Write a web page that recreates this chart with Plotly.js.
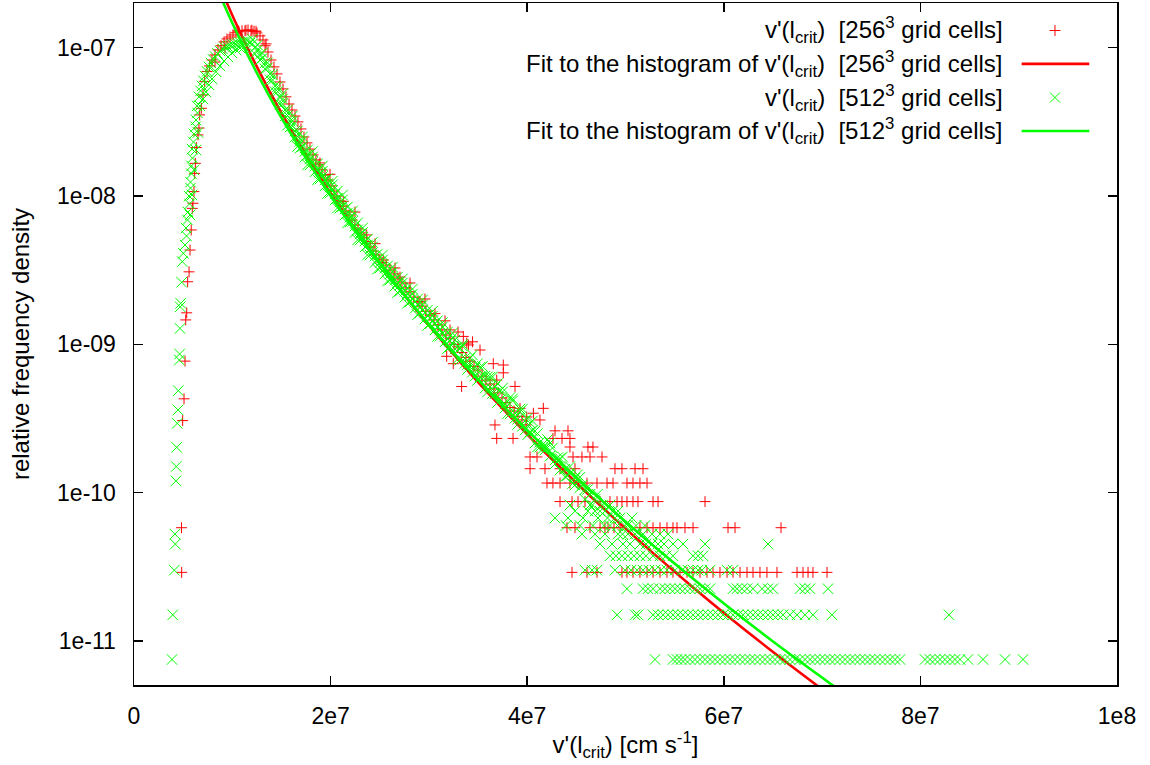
<!DOCTYPE html>
<html>
<head>
<meta charset="utf-8">
<script src="https://cdn.plot.ly/plotly-3.0.1.min.js"></script>
<style>html,body{margin:0;padding:0;background:#fff;}#chart{width:1150px;height:765px;}</style>
</head>
<body>
<div id="chart"></div>
<script>
// ---------- tick labels ----------
const xTickVals = [0, 2e7, 4e7, 6e7, 8e7, 1e8];
const xTickText = ['0', '2e7', '4e7', '6e7', '8e7', '1e8'];
const yTickVals = [1e-11, 1e-10, 1e-9, 1e-8, 1e-7];
const yTickText = ['1e-11', '1e-10', '1e-09', '1e-08', '1e-07'];

const legendLabels = [
  "v'(l<sub>crit</sub>)\u00a0 [256<sup>3</sup> grid cells]",
  "Fit to the histogram of v'(l<sub>crit</sub>)\u00a0 [256<sup>3</sup> grid cells]",
  "v'(l<sub>crit</sub>)\u00a0 [512<sup>3</sup> grid cells]",
  "Fit to the histogram of v'(l<sub>crit</sub>)\u00a0 [512<sup>3</sup> grid cells]"
];

// ---------- 256^3 histogram points [v', density] ----------
const red256Rise = [[4.85e6,2.9e-11],[4.83e6,5.8e-11],[4.95e6,3.06e-10],[5.09e6,4.29e-10],[5.19e6,7.7e-10],[5.26e6,1.46e-9],[5.36e6,1.63e-9],[5.46e6,2.64e-9],[5.60e6,3.08e-9],[5.70e6,4.32e-9],[5.82e6,5.9e-9],[5.93e6,8.25e-9],[6.00e6,8.93e-9],[6.10e6,1.07e-8],[6.17e6,1.42e-8],[6.24e6,1.66e-8],[6.34e6,2.12e-8],[6.51e6,2.58e-8],[6.61e6,2.87e-8],[6.68e6,3.52e-8],[6.85e6,3.9e-8],[7.02e6,4.8e-8],[7.19e6,5.9e-8]];
const red256Peak = [[7.43e6,6.9e-8],[7.68e6,7.53e-8],[7.94e6,8.26e-8],[8.24e6,8.93e-8],[8.55e6,9.65e-8],[8.85e6,1.03e-7],[9.16e6,1.093e-7],[9.46e6,1.145e-7],[9.77e6,1.18e-7],[10.07e6,1.218e-7],[10.38e6,1.26e-7],[10.68e6,1.28e-7],[10.99e6,1.30e-7],[11.29e6,1.30e-7],[11.60e6,1.316e-7],[11.90e6,1.30e-7],[12.21e6,1.29e-7],[12.51e6,1.256e-7],[12.82e6,1.20e-7],[13.12e6,1.127e-7],[13.43e6,1.06e-7],[10.58e6,1.30e-7],[11.39e6,1.31e-7],[12.00e6,1.31e-7],[12.41e6,1.29e-7],[8.24e6,8.0e-8],[9.26e6,9.95e-8]];
const red256Band = [[13.33e6,1.03e-7],[13.63e6,9.35e-8],[13.94e6,8.26e-8],[14.24e6,7.42e-8],[14.55e6,6.65e-8],[14.85e6,5.87e-8],[15.16e6,5.27e-8],[15.46e6,4.66e-8],[15.77e6,4.17e-8],[16.07e6,3.80e-8],[16.38e6,3.46e-8],[16.68e6,3.16e-8],[16.99e6,2.83e-8],[17.29e6,2.50e-8],[17.60e6,2.28e-8],[17.90e6,2.07e-8],[18.21e6,1.89e-8],[18.51e6,1.75e-8],[18.82e6,1.62e-8],[19.13e6,1.50e-8],[19.43e6,1.385e-8],[19.74e6,1.28e-8],[20.04e6,1.17e-8],[20.35e6,1.08e-8],[20.65e6,1.0e-8],[20.96e6,9.26e-9],[21.26e6,8.57e-9],[21.57e6,7.92e-9],[21.87e6,7.44e-9],[22.18e6,6.89e-9],[22.48e6,6.37e-9],[22.79e6,5.99e-9],[23.09e6,5.63e-9],[23.40e6,5.21e-9],[23.70e6,4.93e-9],[24.01e6,4.53e-9],[24.31e6,4.25e-9],[24.62e6,4.00e-9],[24.92e6,3.76e-9],[25.23e6,3.56e-9],[25.64e6,3.42e-9],[26.04e6,3.17e-9],[26.45e6,2.98e-9],[26.86e6,2.76e-9],[27.26e6,2.59e-9],[27.67e6,2.40e-9],[28.08e6,2.26e-9],[28.48e6,2.08e-9],[28.89e6,1.93e-9],[29.30e6,1.81e-9],[29.70e6,1.67e-9],[30.11e6,1.575e-9],[30.52e6,1.46e-9],[30.93e6,1.35e-9],[31.33e6,1.25e-9],[31.74e6,1.155e-9],[32.15e6,1.10e-9],[32.55e6,1.0e-9],[32.96e6,9.6e-10],[33.37e6,8.8e-10],[33.77e6,8.15e-10],[34.18e6,7.7e-10],[34.59e6,7.1e-10],[34.99e6,6.71e-10],[35.40e6,6.1e-10],[35.81e6,5.74e-10],[36.22e6,5.4e-10],[36.62e6,5.0e-10],[37.03e6,4.7e-10],[37.44e6,4.35e-10],[37.84e6,4.05e-10],[38.25e6,3.75e-10],[38.66e6,3.55e-10],[39.06e6,3.27e-10],[39.47e6,3.09e-10],[39.88e6,2.86e-10]];
const red256Outliers = [[18.92e6,1.67e-8],[21.29e6,9.2e-9],[23.67e6,5.46e-9],[25.36e6,3.7e-9],[27.06e6,2.84e-9],[29.09e6,1.94e-9],[30.62e6,1.61e-9],[32.15e6,1.25e-9],[33.50e6,1.13e-9],[33.85e6,1.02e-9],[35.20e6,9.15e-10],[36.55e6,7.4e-10],[34.02e6,9.9e-10],[33.33e6,5.19e-10],[32.48e6,7.4e-10],[31.81e6,8.3e-10],[36.90e6,5.74e-10],[37.57e6,6.42e-10],[37.57e6,7.25e-10],[38.76e6,5.2e-10],[39.27e6,3.7e-10],[39.95e6,3.24e-10],[40.63e6,3.43e-10],[41.64e6,3.70e-10],[41.30e6,3.09e-10],[36.72e6,2.86e-10],[36.90e6,2.32e-10],[38.56e6,2.32e-10],
[19.94e6,1.40e-8],[22.48e6,7.79e-9],[24.52e6,4.77e-9],[26.55e6,3.27e-9],[28.08e6,2.59e-9],[29.60e6,2.02e-9],[31.64e6,1.44e-9],[32.96e6,1.21e-9],[34.44e6,1.04e-9]];
const red256Tail = [[42.83e6,2.61e-10],[44.15e6,2.61e-10],[42.62e6,2.32e-10],[43.54e6,2.32e-10],[44.35e6,2.32e-10],[44.35e6,2.03e-10],[46.18e6,2.03e-10],[46.69e6,2.03e-10],
[40.29e6,1.74e-10],[41.00e6,1.74e-10],[44.66e6,1.74e-10],[45.57e6,1.74e-10],[46.39e6,1.74e-10],[47.61e6,1.74e-10],
[40.29e6,1.45e-10],[41.81e6,1.45e-10],[43.34e6,1.45e-10],[44.86e6,1.45e-10],[48.93e6,1.45e-10],[49.64e6,1.45e-10],[50.97e6,1.45e-10],[51.78e6,1.45e-10],
[42.01e6,1.16e-10],[42.62e6,1.16e-10],[43.34e6,1.16e-10],[44.35e6,1.16e-10],[45.17e6,1.16e-10],[46.08e6,1.16e-10],[47.10e6,1.16e-10],[48.12e6,1.16e-10],[48.73e6,1.16e-10],[50.15e6,1.16e-10],[50.76e6,1.16e-10],[51.47e6,1.16e-10],[52.19e6,1.16e-10],
[43.34e6,8.7e-11],[44.56e6,8.7e-11],[45.17e6,8.7e-11],[45.88e6,8.7e-11],[47.41e6,8.7e-11],[48.42e6,8.7e-11],[49.14e6,8.7e-11],[49.64e6,8.7e-11],[50.15e6,8.7e-11],[50.76e6,8.7e-11],[51.27e6,8.7e-11],[52.80e6,8.7e-11],[53.31e6,8.7e-11],[58.09e6,8.7e-11],
[44.05e6,5.8e-11],[44.86e6,5.8e-11],[46.39e6,5.8e-11],[47.41e6,5.8e-11],[47.91e6,5.8e-11],[48.22e6,5.8e-11],[48.83e6,5.8e-11],[49.44e6,5.8e-11],[51.47e6,5.8e-11],[52.19e6,5.8e-11],[52.80e6,5.8e-11],[53.51e6,5.8e-11],[54.22e6,5.8e-11],[54.83e6,5.8e-11],[55.24e6,5.8e-11],[56.05e6,5.8e-11],[56.87e6,5.8e-11],[60.43e6,5.8e-11],[61.14e6,5.8e-11],[65.82e6,5.8e-11],
[44.56e6,2.9e-11],[46.08e6,2.9e-11],[47.10e6,2.9e-11],[49.64e6,2.9e-11],[50.15e6,2.9e-11],[50.76e6,2.9e-11],[51.47e6,2.9e-11],[52.19e6,2.9e-11],[52.80e6,2.9e-11],[53.51e6,2.9e-11],[54.22e6,2.9e-11],[54.83e6,2.9e-11],[55.54e6,2.9e-11],[56.26e6,2.9e-11],[56.87e6,2.9e-11],[57.58e6,2.9e-11],[58.29e6,2.9e-11],[58.90e6,2.9e-11],[59.61e6,2.9e-11],[60.33e6,2.9e-11],[60.94e6,2.9e-11],[61.65e6,2.9e-11],[62.36e6,2.9e-11],[62.97e6,2.9e-11],[63.68e6,2.9e-11],[64.39e6,2.9e-11],[65.41e6,2.9e-11],[67.45e6,2.9e-11],[68.06e6,2.9e-11],[68.57e6,2.9e-11],[69.07e6,2.9e-11],[70.50e6,2.9e-11]];

// ---------- 512^3 histogram points [v', density] ----------
const green512Rise = [[3.87e6,7.5e-12],[3.94e6,1.5e-11],[4.10e6,3.0e-11],[4.20e6,4.5e-11],[4.17e6,5.25e-11],[4.27e6,1.2e-10],[4.30e6,1.5e-10],[4.34e6,2.02e-10],[4.40e6,2.93e-10],[4.48e6,3.61e-10],[4.51e6,4.87e-10],[4.61e6,7.83e-10],[4.64e6,8.6e-10],[4.68e6,1.28e-9],[4.70e6,1.79e-9],[4.75e6,1.89e-9],[4.85e6,2.62e-9],[4.91e6,3.61e-9],[5.02e6,4.11e-9]];
const green512Peak = [[5.19e6,4.67e-9],[5.34e6,5.38e-9],[5.29e6,6.08e-9],[5.44e6,6.89e-9],[5.49e6,7.79e-9],[5.65e6,8.84e-9],[5.60e6,9.99e-9],[5.75e6,1.13e-8],[5.75e6,1.24e-8],[5.85e6,1.41e-8],[5.85e6,1.595e-8],[5.95e6,1.80e-8],[5.90e6,2.07e-8],[6.05e6,2.31e-8],[6.10e6,2.62e-8],[6.26e6,2.93e-8],[6.31e6,3.25e-8],[6.46e6,3.63e-8],[6.41e6,4.05e-8],
[6.61e6,4.66e-8],[6.77e6,5.11e-8],[6.92e6,5.52e-8],[7.07e6,5.97e-8],[7.22e6,6.45e-8],[7.43e6,6.91e-8],[7.63e6,7.42e-8],[7.83e6,7.88e-8],[8.04e6,8.33e-8],[8.24e6,8.72e-8],[8.49e6,9.14e-8],[8.75e6,9.50e-8],[9.00e6,9.80e-8],[9.26e6,1.003e-7],[9.51e6,1.019e-7],[9.77e6,1.035e-7],[10.02e6,1.051e-7],[10.27e6,1.06e-7],[10.53e6,1.076e-7],[10.78e6,1.084e-7],[11.04e6,1.093e-7],[11.29e6,1.101e-7],
[6.71e6,4.05e-8],[7.02e6,4.51e-8],[7.32e6,5.03e-8],[7.63e6,5.61e-8],[7.94e6,6.15e-8],[8.34e6,6.88e-8],[8.75e6,7.53e-8],[9.16e6,8.13e-8],[9.56e6,8.65e-8],[9.97e6,9.21e-8],[10.38e6,9.65e-8],[10.78e6,9.95e-8],[11.19e6,1.01e-7],
[5.70e6,7.44e-9],[5.90e6,1.015e-8],[6.10e6,1.50e-8],[6.31e6,2.04e-8],[6.51e6,2.68e-8]];
const green512Band = [[11.55e6,1.11e-7],[11.80e6,1.075e-7],[12.05e6,1.06e-7],[12.31e6,1.003e-7],[12.56e6,9.65e-8],[12.82e6,9.0e-8],[13.07e6,8.5e-8],[13.33e6,7.9e-8],[13.58e6,7.3e-8],[13.84e6,6.65e-8],[14.09e6,6.06e-8],[14.34e6,5.5e-8],[14.60e6,5.05e-8],[14.85e6,4.6e-8],[15.11e6,4.17e-8],[15.36e6,3.80e-8],[15.62e6,3.49e-8],[15.87e6,3.20e-8],[16.12e6,2.96e-8],[16.38e6,2.74e-8],[16.63e6,2.52e-8],[16.89e6,2.33e-8],[17.14e6,2.15e-8],[17.40e6,2.00e-8],[17.65e6,1.89e-8],[17.90e6,1.78e-8],[18.16e6,1.68e-8],[18.41e6,1.59e-8],[18.67e6,1.51e-8],[18.92e6,1.43e-8],[19.18e6,1.355e-8],[19.43e6,1.28e-8],[19.69e6,1.21e-8],[19.94e6,1.15e-8],[20.19e6,1.09e-8],[20.45e6,1.03e-8],[20.70e6,9.66e-9],[20.96e6,9.1e-9],[21.21e6,8.5e-9],[21.46e6,8.17e-9],[21.72e6,7.67e-9],[21.97e6,7.2e-9],[22.23e6,6.75e-9],[22.48e6,6.27e-9],[22.74e6,5.90e-9],[22.99e6,5.55e-9],[23.25e6,5.25e-9],[23.50e6,4.97e-9],[23.75e6,4.67e-9],[24.01e6,4.39e-9],[24.26e6,4.16e-9],[24.52e6,3.94e-9],[24.77e6,3.75e-9],[25.03e6,3.56e-9],[25.28e6,3.42e-9],[25.53e6,3.27e-9],[25.79e6,3.12e-9],[26.04e6,2.98e-9],[26.30e6,2.84e-9],[26.55e6,2.71e-9],[26.81e6,2.61e-9],[27.06e6,2.51e-9],[27.31e6,2.40e-9],[27.57e6,2.28e-9],[27.82e6,2.20e-9],[28.08e6,2.12e-9],[28.33e6,2.02e-9],[28.59e6,1.93e-9],[28.84e6,1.86e-9],[29.09e6,1.79e-9],[29.35e6,1.70e-9],[29.60e6,1.63e-9],[29.86e6,1.57e-9],[30.11e6,1.51e-9],[30.37e6,1.44e-9],[30.62e6,1.375e-9],[30.87e6,1.31e-9],[31.13e6,1.25e-9],[31.38e6,1.19e-9],[31.64e6,1.135e-9],[31.89e6,1.09e-9],[32.15e6,1.05e-9],
[12.05e6,1.14e-7],[12.56e6,1.043e-7],[13.07e6,9.2e-8],[13.58e6,7.9e-8],[14.09e6,6.55e-8],[14.60e6,5.45e-8],[15.11e6,4.5e-8],[15.62e6,3.80e-8],[16.12e6,3.20e-8],[16.63e6,2.74e-8],[17.14e6,2.35e-8],[17.65e6,2.04e-8],[18.16e6,1.83e-8],[18.67e6,1.65e-8],[19.18e6,1.47e-8],[19.69e6,1.31e-8],[20.19e6,1.19e-8],[20.70e6,1.08e-8],[21.21e6,9.40e-9],[21.72e6,8.43e-9],[22.23e6,7.33e-9],[22.74e6,6.58e-9],[23.25e6,5.68e-9],[23.75e6,5.12e-9],[24.26e6,4.53e-9],[24.77e6,4.06e-9],[25.28e6,3.70e-9],[25.79e6,3.37e-9],[26.30e6,3.07e-9],[26.81e6,2.84e-9],[27.31e6,2.59e-9],[27.82e6,2.40e-9],[28.33e6,2.18e-9],[28.84e6,2.02e-9],[29.35e6,1.84e-9],[29.86e6,1.70e-9],[30.37e6,1.55e-9],[30.87e6,1.44e-9],[31.38e6,1.31e-9],[31.89e6,1.21e-9],
[12.31e6,9.1e-8],[12.82e6,8.26e-8],[13.33e6,7.2e-8],[13.84e6,6.06e-8],[14.34e6,5.05e-8],[14.85e6,4.17e-8],[15.36e6,3.46e-8],[15.87e6,2.92e-8],[16.38e6,2.49e-8],[16.89e6,2.1e-8],[17.40e6,1.83e-8],[17.90e6,1.62e-8],[18.41e6,1.455e-8],[18.92e6,1.30e-8],[19.43e6,1.17e-8],[19.94e6,1.045e-8],[20.45e6,9.40e-9],[20.96e6,8.3e-9],[21.46e6,7.44e-9],[21.97e6,6.68e-9],[22.48e6,5.68e-9],[22.99e6,5.05e-9],[23.50e6,4.53e-9],[24.01e6,4.00e-9],[24.52e6,3.56e-9],[25.03e6,3.27e-9],[25.53e6,2.98e-9],[26.04e6,2.71e-9],[26.55e6,2.47e-9],[27.06e6,2.28e-9],[27.57e6,2.08e-9],[28.08e6,1.93e-9],[28.59e6,1.75e-9],[29.09e6,1.63e-9],[29.60e6,1.48e-9],[30.11e6,1.375e-9],[30.62e6,1.25e-9],[31.13e6,1.135e-9],[31.64e6,1.04e-9],[32.15e6,9.6e-10],
[15.11e6,4.88e-8],[16.12e6,3.46e-8],[17.14e6,2.50e-8],[18.16e6,1.99e-8],[19.18e6,1.595e-8],[20.19e6,1.26e-8],[21.21e6,1.015e-8],[22.23e6,7.92e-9],[23.25e6,6.08e-9],[24.26e6,4.86e-9],[25.28e6,4.00e-9],[26.30e6,3.32e-9],[27.31e6,2.76e-9],[28.33e6,2.36e-9],[29.35e6,1.99e-9],[30.37e6,1.67e-9],[31.38e6,1.40e-9],[32.40e6,1.19e-9],[33.42e6,1.0e-9],[34.44e6,8.47e-10],[35.45e6,7.1e-10],[36.47e6,6.03e-10],[37.49e6,5.06e-10],[38.51e6,4.29e-10],[39.52e6,3.66e-10],[40.54e6,3.04e-10],
[15.62e6,3.0e-8],[16.63e6,2.15e-8],[17.65e6,1.62e-8],[18.67e6,1.29e-8],[19.69e6,1.04e-8],[20.70e6,8.3e-9],[21.72e6,6.58e-9],[22.74e6,5.05e-9],[23.75e6,4.00e-9],[24.77e6,3.22e-9],[25.79e6,2.67e-9],[26.81e6,2.23e-9],[27.82e6,1.89e-9],[28.84e6,1.58e-9],[29.86e6,1.34e-9],[30.87e6,1.13e-9],[31.89e6,9.35e-10],[32.91e6,7.95e-10],[33.93e6,6.76e-10],[34.94e6,5.7e-10],[35.96e6,4.77e-10],[36.98e6,4.05e-10],[38.00e6,3.41e-10],[39.01e6,2.88e-10],[40.03e6,2.45e-10],[41.05e6,2.03e-10],
[32.40e6,1.11e-9],[32.66e6,9.3e-10],[32.91e6,9.6e-10],[33.16e6,7.83e-10],[33.42e6,9.7e-10],[33.67e6,8.07e-10],[33.93e6,7.3e-10],[34.18e6,8.07e-10],[34.44e6,6.5e-10],[34.69e6,7.0e-10],[34.94e6,7.4e-10],[35.20e6,6.03e-10],[35.45e6,6.1e-10],[35.71e6,5.06e-10],[35.96e6,6.03e-10],[36.22e6,5.15e-10],[36.47e6,4.66e-10],[36.72e6,5.15e-10],[36.98e6,5.43e-10],[37.23e6,4.21e-10],[37.49e6,4.77e-10],[37.74e6,3.96e-10],[38.00e6,4.1e-10],[38.25e6,3.39e-10],[38.51e6,4.15e-10],[38.76e6,3.45e-10],[39.01e6,3.12e-10],[39.27e6,3.5e-10],[39.52e6,2.8e-10],[39.78e6,3.04e-10],[40.03e6,3.18e-10],[40.29e6,2.57e-10],[40.54e6,2.61e-10],[40.79e6,2.16e-10],[41.05e6,2.5e-10],[41.30e6,2.19e-10],[41.56e6,1.97e-10],[41.81e6,2.1e-10],[42.07e6,2.28e-10],[42.32e6,1.76e-10],[42.57e6,2.0e-10],[42.83e6,1.66e-10],[43.08e6,1.72e-10],[43.34e6,1.42e-10],[43.59e6,1.74e-10],[43.85e6,1.44e-10],[44.10e6,1.30e-10],[44.35e6,1.35e-10],[44.61e6,1.15e-10],[44.86e6,1.25e-10],[45.12e6,1.32e-10],[45.37e6,1.08e-10],[45.62e6,1.125e-10],[45.88e6,9.0e-11],[46.13e6,1.05e-10],[46.39e6,9.75e-11],[46.64e6,8.25e-11],[46.90e6,9.0e-11],[47.15e6,9.75e-11],[47.41e6,7.5e-11],[47.66e6,8.25e-11],[47.91e6,7.5e-11],[48.17e6,6.75e-11],[48.42e6,6.0e-11],[48.68e6,7.5e-11],[48.93e6,6.75e-11],[49.19e6,6.0e-11],[49.44e6,6.75e-11],[49.70e6,5.25e-11],[49.95e6,6.0e-11],[50.20e6,6.0e-11],[50.46e6,4.5e-11],[50.97e6,5.25e-11],[51.47e6,4.5e-11],
[32.66e6,1.07e-9],[33.16e6,9.45e-10],[33.67e6,7.45e-10],[34.18e6,7.25e-10],[34.69e6,6.1e-10],[35.20e6,7.0e-10],[35.71e6,6.1e-10],[36.22e6,6.0e-10],[36.72e6,4.63e-10],[37.23e6,4.84e-10],[37.74e6,3.72e-10],[38.25e6,4.38e-10],[38.76e6,3.18e-10],[39.27e6,3.66e-10],[39.78e6,2.64e-10],[40.29e6,2.95e-10],[40.79e6,2.6e-10],[41.30e6,2.03e-10],[41.81e6,1.94e-10],[42.32e6,2.16e-10],[42.83e6,1.56e-10],[43.34e6,1.70e-10],[43.85e6,1.28e-10],[44.35e6,1.5e-10],[44.86e6,1.125e-10],[45.37e6,1.27e-10],[45.88e6,1.05e-10],[46.39e6,8.25e-11],[46.90e6,7.5e-11]];
const green512Tail = [[44.35e6,8.25e-11],[48.42e6,8.25e-11],[44.86e6,7.5e-11],[46.18e6,7.5e-11],[49.24e6,7.5e-11],
[42.83e6,6.75e-11],[44.15e6,6.75e-11],[45.67e6,6.75e-11],[47.20e6,6.75e-11],[50.66e6,6.75e-11],
[43.95e6,6.0e-11],[45.37e6,6.0e-11],[46.69e6,6.0e-11],[47.81e6,6.0e-11],[51.07e6,6.0e-11],[51.98e6,6.0e-11],
[45.57e6,5.25e-11],[46.90e6,5.25e-11],[47.91e6,5.25e-11],[49.24e6,5.25e-11],[50.25e6,5.25e-11],[51.78e6,5.25e-11],[52.70e6,5.25e-11],[53.51e6,5.25e-11],[54.33e6,5.25e-11],
[47.41e6,4.5e-11],[48.63e6,4.5e-11],[49.74e6,4.5e-11],[52.09e6,4.5e-11],[52.70e6,4.5e-11],[53.31e6,4.5e-11],[53.92e6,4.5e-11],[54.83e6,4.5e-11],[55.85e6,4.5e-11],[58.09e6,4.5e-11],[64.50e6,4.5e-11],
[48.42e6,3.75e-11],[49.03e6,3.75e-11],[49.64e6,3.75e-11],[50.25e6,3.75e-11],[50.86e6,3.75e-11],[51.47e6,3.75e-11],[52.09e6,3.75e-11],[52.80e6,3.75e-11],[53.51e6,3.75e-11],[54.12e6,3.75e-11],[54.83e6,3.75e-11],[56.87e6,3.75e-11],[57.38e6,3.75e-11],[57.89e6,3.75e-11],
[45.88e6,3.0e-11],[46.59e6,3.0e-11],[47.10e6,3.0e-11],[48.93e6,3.0e-11],[49.95e6,3.0e-11],[50.56e6,3.0e-11],[51.17e6,3.0e-11],[51.78e6,3.0e-11],[52.39e6,3.0e-11],[53.00e6,3.0e-11],[53.61e6,3.0e-11],[54.22e6,3.0e-11],[55.04e6,3.0e-11],[55.75e6,3.0e-11],[56.36e6,3.0e-11],[56.87e6,3.0e-11],[57.38e6,3.0e-11],[57.78e6,3.0e-11],[58.60e6,3.0e-11],[60.33e6,3.0e-11],[60.94e6,3.0e-11],
[50.15e6,2.25e-11],[51.78e6,2.25e-11],[52.29e6,2.25e-11],[52.80e6,2.25e-11],[53.51e6,2.25e-11],[54.02e6,2.25e-11],[54.53e6,2.25e-11],[55.04e6,2.25e-11],[55.54e6,2.25e-11],[56.05e6,2.25e-11],[56.56e6,2.25e-11],[57.07e6,2.25e-11],[57.58e6,2.25e-11],[58.09e6,2.25e-11],[58.60e6,2.25e-11],[60.94e6,2.25e-11],[61.34e6,2.25e-11],[61.85e6,2.25e-11],[62.36e6,2.25e-11],[62.97e6,2.25e-11],[63.89e6,2.25e-11],[64.50e6,2.25e-11],[65.00e6,2.25e-11],[67.75e6,2.25e-11],[68.26e6,2.25e-11],[68.77e6,2.25e-11],[70.60e6,2.25e-11],
[49.14e6,1.5e-11],[50.97e6,1.5e-11],[51.27e6,1.5e-11],[52.80e6,1.5e-11],[53.31e6,1.5e-11],[53.82e6,1.5e-11],[54.33e6,1.5e-11],[54.83e6,1.5e-11],[55.34e6,1.5e-11],[55.85e6,1.5e-11],[56.36e6,1.5e-11],[56.87e6,1.5e-11],[57.38e6,1.5e-11],[57.89e6,1.5e-11],[58.39e6,1.5e-11],[58.90e6,1.5e-11],[59.41e6,1.5e-11],[59.92e6,1.5e-11],[60.43e6,1.5e-11],[60.94e6,1.5e-11],[61.45e6,1.5e-11],[61.96e6,1.5e-11],[62.46e6,1.5e-11],[62.97e6,1.5e-11],[63.48e6,1.5e-11],[63.99e6,1.5e-11],[64.50e6,1.5e-11],[65.00e6,1.5e-11],[65.51e6,1.5e-11],[66.02e6,1.5e-11],[66.73e6,1.5e-11],[67.45e6,1.5e-11],[68.26e6,1.5e-11],[69.07e6,1.5e-11],[71.00e6,1.5e-11],[82.91e6,1.5e-11],
[53.00e6,7.5e-12],[54.83e6,7.5e-12],[55.24e6,7.5e-12],[55.65e6,7.5e-12],[56.05e6,7.5e-12],[56.56e6,7.5e-12],[57.07e6,7.5e-12],[57.58e6,7.5e-12],[58.09e6,7.5e-12],[58.60e6,7.5e-12],[59.11e6,7.5e-12],[59.61e6,7.5e-12],[60.12e6,7.5e-12],[60.63e6,7.5e-12],[61.14e6,7.5e-12],[61.65e6,7.5e-12],[62.16e6,7.5e-12],[62.67e6,7.5e-12],[63.17e6,7.5e-12],[63.68e6,7.5e-12],[64.19e6,7.5e-12],[64.70e6,7.5e-12],[65.21e6,7.5e-12],[65.72e6,7.5e-12],[66.23e6,7.5e-12],[66.73e6,7.5e-12],[67.24e6,7.5e-12],[67.75e6,7.5e-12],[68.26e6,7.5e-12],[68.77e6,7.5e-12],[69.28e6,7.5e-12],[69.79e6,7.5e-12],[70.29e6,7.5e-12],[70.80e6,7.5e-12],[71.31e6,7.5e-12],[71.82e6,7.5e-12],[72.33e6,7.5e-12],[72.84e6,7.5e-12],[73.35e6,7.5e-12],[73.86e6,7.5e-12],[74.37e6,7.5e-12],[74.87e6,7.5e-12],[75.38e6,7.5e-12],[75.89e6,7.5e-12],[76.40e6,7.5e-12],[76.91e6,7.5e-12],[77.42e6,7.5e-12],[77.93e6,7.5e-12],[80.47e6,7.5e-12],[80.98e6,7.5e-12],[81.49e6,7.5e-12],[81.99e6,7.5e-12],[82.50e6,7.5e-12],[83.01e6,7.5e-12],[83.52e6,7.5e-12],[84.03e6,7.5e-12],[84.84e6,7.5e-12],[86.37e6,7.5e-12],[88.61e6,7.5e-12],[90.44e6,7.5e-12]];

// ---------- fitted curves (sampled along the drawn curves) ----------
const fitRedX = [8.65e6, 9.16e6, 10.17e6, 12.21e6, 15.26e6, 20.35e6, 26.45e6, 33.57e6, 40.69e6, 48.83e6, 56.97e6, 65.11e6, 71.21e6];
const fitRedY = [2.68e-7, 2.22e-7, 1.561e-7, 8.12e-8, 3.39e-8, 9.62e-9, 2.634e-9, 7.105e-10, 2.221e-10, 6.73e-11, 2.27e-11, 8.32e-12, 4.11e-12];
const fitGreenX = [8.65e6, 9.16e6, 10.17e6, 12.21e6, 15.26e6, 20.35e6, 26.45e6, 33.57e6, 40.69e6, 48.83e6, 56.97e6, 65.11e6, 73.25e6];
const fitGreenY = [2.35e-7, 1.957e-7, 1.388e-7, 7.35e-8, 3.145e-8, 9.25e-9, 2.63e-9, 7.36e-10, 2.377e-10, 7.46e-11, 2.595e-11, 9.79e-12, 3.95e-12];

// ---------- build ----------
const RED = '#ff0000', GREEN = '#00ff00';
const FONT = 'Liberation Sans, Arial, Helvetica, sans-serif';
const redPts = [].concat(red256Rise, red256Peak, red256Band, red256Outliers, red256Tail);
const greenPts = [].concat(green512Rise, green512Peak, green512Band, green512Tail);

const traces = [
  {x: redPts.map(p => p[0]), y: redPts.map(p => p[1]), type: 'scatter', mode: 'markers',
   marker: {symbol: 'cross-thin', size: 7.8, color: RED, line: {color: RED, width: 1}}, hoverinfo: 'skip'},
  {x: fitRedX, y: fitRedY, type: 'scatter', mode: 'lines',
   line: {color: RED, width: 2.6, shape: 'spline', smoothing: 0.8}, hoverinfo: 'skip'},
  {x: greenPts.map(p => p[0]), y: greenPts.map(p => p[1]), type: 'scatter', mode: 'markers',
   marker: {symbol: 'x-thin', size: 10.5, color: GREEN, line: {color: GREEN, width: 1}}, hoverinfo: 'skip'},
  {x: fitGreenX, y: fitGreenY, type: 'scatter', mode: 'lines',
   line: {color: GREEN, width: 2.6, shape: 'spline', smoothing: 0.8}, hoverinfo: 'skip'}
];

// legend (gnuplot style: text right-justified, sample on the right)
const rowsY = [0.9597, 0.9106, 0.8614, 0.8123];
const legendTextX = 0.8861, legendSampleX = 0.9369, legendLineX0 = 0.903, legendLineX1 = 0.9718;
const annotations = legendLabels.map((t, i) => ({
  text: t, xref: 'paper', yref: 'paper', x: legendTextX, y: rowsY[i],
  xanchor: 'right', yanchor: 'middle', showarrow: false,
  font: {family: FONT, size: 24, color: '#000'}
}));
const shapes = [
  {type: 'path', xref: 'paper', yref: 'paper', xsizemode: 'pixel', ysizemode: 'pixel',
   xanchor: legendSampleX, yanchor: rowsY[0], path: 'M-5.5,0L5.5,0M0,-5.5L0,5.5', line: {color: RED, width: 1}},
  {type: 'line', xref: 'paper', yref: 'paper', x0: legendLineX0, x1: legendLineX1, y0: rowsY[1], y1: rowsY[1],
   line: {color: RED, width: 2.7}},
  {type: 'path', xref: 'paper', yref: 'paper', xsizemode: 'pixel', ysizemode: 'pixel',
   xanchor: legendSampleX, yanchor: rowsY[2], path: 'M-5,-5L5,5M-5,5L5,-5', line: {color: GREEN, width: 1}},
  {type: 'line', xref: 'paper', yref: 'paper', x0: legendLineX0, x1: legendLineX1, y0: rowsY[3], y1: rowsY[3],
   line: {color: GREEN, width: 2.7}}
];

const axisCommon = {
  ticks: 'inside', ticklen: 9, tickwidth: 1.5, tickcolor: '#000',
  showline: true, linecolor: '#000', linewidth: 1.5, mirror: 'ticks',
  showgrid: false, zeroline: false, automargin: false,
  tickfont: {family: FONT, size: 23, color: '#000'}
};

const layout = {
  width: 1150, height: 765,
  margin: {l: 134, r: 33, t: 3, b: 80, pad: 0},
  paper_bgcolor: '#fff', plot_bgcolor: '#fff',
  showlegend: false,
  font: {family: FONT, size: 23, color: '#000'},
  xaxis: Object.assign({}, axisCommon, {
    range: [0, 1e8], tickmode: 'array', tickvals: xTickVals, ticktext: xTickText,
    ticklabelstandoff: 10,
    title: {text: "v'(l<sub>crit</sub>) [cm s<sup>-1</sup>]", font: {family: FONT, size: 24, color: '#000'}, standoff: 8}
  }),
  yaxis: Object.assign({}, axisCommon, {
    type: 'log', range: [-11.297, -6.699], tickmode: 'array', tickvals: yTickVals, ticktext: yTickText,
    ticklabelstandoff: 12,
    title: {text: 'relative frequency density', font: {family: FONT, size: 24, color: '#000'}, standoff: 20}
  }),
  annotations: annotations,
  shapes: shapes
};

Plotly.newPlot('chart', traces, layout, {displayModeBar: false, staticPlot: true});
</script>
</body>
</html>
